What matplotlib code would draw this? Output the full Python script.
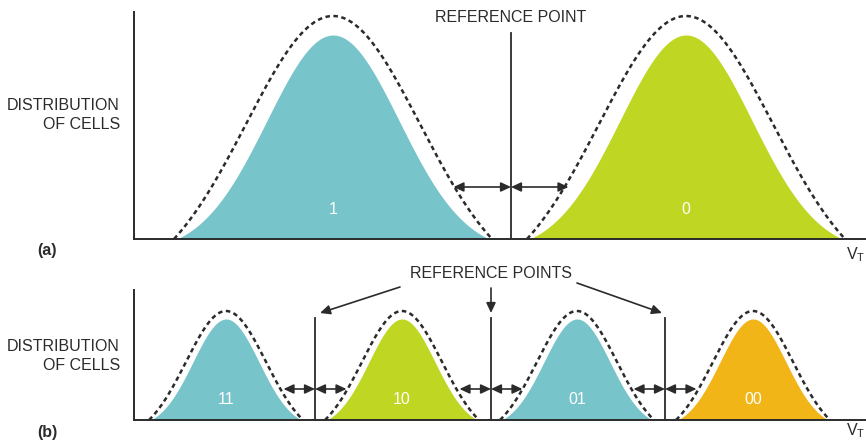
import matplotlib.pyplot as plt
import numpy as np

plt.rcParams["font.family"] = ["Liberation Sans", "DejaVu Sans"]
plt.rcParams["mathtext.fontset"] = "custom"
plt.rcParams["mathtext.rm"] = "Liberation Sans"

INK = "#2b2b2b"
TEAL = "#78c4cb"
GREEN = "#bfd622"
ORANGE = "#f2b517"

# (a) single-level cell: two states, one reference point
A_CENTERS = [1.99, 5.52]
A_LABELS = ["1", "0"]
A_COLORS = [TEAL, GREEN]
A_REFS = [3.77]
A_PEAK, A_HALF, A_SIGMA = 2.04, 1.56, 0.66
A_ENV_PEAK, A_ENV_HALF, A_ENV_SIGMA = 2.23, 1.59, 0.87
A_MARGIN = 0.575
A_ARROW_Y = 0.52
A_REF_TOP = 2.06

# (b) multi-level cell: four states, three reference points
B_CENTERS = [0.92, 2.68, 4.43, 6.19]
B_LABELS = ["11", "10", "01", "00"]
B_COLORS = [TEAL, GREEN, TEAL, ORANGE]
B_REFS = [1.81, 3.57, 5.31]
B_PEAK, B_HALF, B_SIGMA = 1.01, 0.75, 0.33
B_ENV_PEAK, B_ENV_HALF, B_ENV_SIGMA = 1.09, 0.77, 0.40
B_MARGIN = 0.315
B_ARROW_Y = 0.31
B_REF_TOP = 1.02

FS = 11.5


def bell(c, half, sigma, peak, n=300):
    x = np.linspace(c - half, c + half, n)
    e = np.exp(-half**2 / (2 * sigma**2))
    y = (np.exp(-(x - c) ** 2 / (2 * sigma**2)) - e) / (1 - e)
    return x, peak * np.clip(y, 0, None)


def style_axes(ax, ymax):
    ax.set_xlim(0, 7.32)
    ax.set_ylim(0, ymax)
    for side in ("top", "right"):
        ax.spines[side].set_visible(False)
    for side in ("left", "bottom"):
        ax.spines[side].set_color(INK)
        ax.spines[side].set_linewidth(1.4)
    ax.set_xticks([])
    ax.set_yticks([])
    ax.patch.set_alpha(0)


def double_arrow(ax, x0, x1, y):
    ax.annotate("", xy=(x1, y), xytext=(x0, y),
                arrowprops=dict(arrowstyle="<|-|>,head_length=0.6,head_width=0.28",
                                color=INK, lw=1.2, shrinkA=0, shrinkB=0,
                                mutation_scale=10))


def draw_panel(ax, centers, labels, colors, refs, shape, env, margin,
               arrow_y, ref_top, label_y):
    for c, lab, col in zip(centers, labels, colors):
        x, y = bell(c, *shape)
        ax.fill_between(x, 0, y, color=col, lw=0)
        xe, ye = bell(c, *env)
        ax.plot(xe, ye, color=INK, lw=1.8, dashes=(1.8, 1.4))
        ax.text(c, label_y, lab, color="white", fontsize=FS,
                ha="center", va="center")
    for r in refs:
        ax.plot([r, r], [0, ref_top], color=INK, lw=1.3)
        double_arrow(ax, r - margin, r, arrow_y)
        double_arrow(ax, r, r + margin, arrow_y)


fig = plt.figure(figsize=(8.66, 4.43), dpi=100)

ax_a = fig.add_axes([134 / 866, 204 / 443, 732 / 866, 227 / 443])
style_axes(ax_a, 2.27)
draw_panel(ax_a, A_CENTERS, A_LABELS, A_COLORS, A_REFS,
           (A_HALF, A_SIGMA, A_PEAK), (A_ENV_HALF, A_ENV_SIGMA, A_ENV_PEAK),
           A_MARGIN, A_ARROW_Y, A_REF_TOP, 0.30)
ax_a.text(A_REFS[0], 2.22, "REFERENCE POINT", color=INK, fontsize=FS,
          ha="center", va="center")

ax_b = fig.add_axes([134 / 866, 23 / 443, 732 / 866, 130 / 443])
style_axes(ax_b, 1.30)
draw_panel(ax_b, B_CENTERS, B_LABELS, B_COLORS, B_REFS,
           (B_HALF, B_SIGMA, B_PEAK), (B_ENV_HALF, B_ENV_SIGMA, B_ENV_PEAK),
           B_MARGIN, B_ARROW_Y, B_REF_TOP, 0.20)
ax_b.text(B_REFS[1], 1.46, "REFERENCE POINTS", color=INK, fontsize=FS,
          ha="center", va="center")

# pointers from the caption down to each reference line
starts = [(B_REFS[0] + 0.85, 1.33), (B_REFS[1], 1.32), (B_REFS[2] - 0.88, 1.37)]
tips = [(B_REFS[0] + 0.05, 1.07), (B_REFS[1], 1.07), (B_REFS[2] - 0.03, 1.07)]
for s, t in zip(starts, tips):
    ax_b.annotate("", xy=t, xytext=s, annotation_clip=False,
                  arrowprops=dict(arrowstyle="-|>,head_length=0.6,head_width=0.28",
                                  color=INK, lw=1.2, shrinkA=0, shrinkB=0,
                                  mutation_scale=10))

for yc in (115, 356):
    fig.text(120 / 866, 1 - yc / 443, "DISTRIBUTION\nOF CELLS", color=INK,
             fontsize=FS, ha="right", va="center", multialignment="right",
             linespacing=1.4)
fig.text(47 / 866, 1 - 250 / 443, "(a)", color=INK, fontsize=FS,
         fontweight="bold", ha="center", va="center")
fig.text(47 / 866, 1 - 432 / 443, "(b)", color=INK, fontsize=FS,
         fontweight="bold", ha="center", va="center")
for yc in (255, 431):
    fig.text(865 / 866, 1 - yc / 443, r"V$_\mathregular{T}$", color=INK,
             fontsize=FS, ha="right", va="center")

fig.savefig("out.png", dpi=100)
